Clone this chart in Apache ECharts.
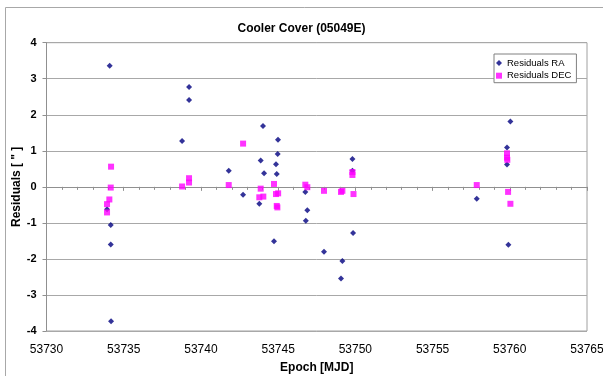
<!DOCTYPE html>
<html>
<head>
<meta charset="utf-8">
<script src="https://cdn.jsdelivr.net/npm/echarts@6/dist/echarts.min.js"></script>
<style>
html,body{margin:0;padding:0;background:#fff;}
#c{width:603px;height:376px;}
</style>
</head>
<body>
<div id="c"></div>
<script>
var titleText = 'Cooler Cover (05049E)';
var xName = 'Epoch [MJD]';
var yName = 'Residuals [ " ]';
var seriesNames = ['Residuals RA', 'Residuals DEC'];

var raX = [53734.09, 53739.23, 53739.23, 53738.78, 53733.92, 53734.16, 53734.16, 53734.18,
  53744.02, 53744.99, 53744.97, 53743.87, 53744.86, 53741.80, 53744.09, 53744.91,
  53742.73, 53743.78, 53746.76, 53746.89, 53746.79, 53744.73, 53747.97, 53749.16,
  53749.07, 53749.81, 53749.85, 53749.81, 53760.04, 53759.82, 53759.82, 53757.86, 53759.91];
var raY = [3.36, 2.77, 2.41, 1.27, -0.62, -1.06, -1.60, -3.73,
  1.69, 1.31, 0.91, 0.73, 0.63, 0.45, 0.38, 0.36,
  -0.22, -0.47, -0.14, -0.65, -0.94, -1.51, -1.80, -2.06,
  -2.54, 0.77, -1.28, 0.45, 1.81, 1.09, 0.62, -0.33, -1.61];

var decX = [53734.18, 53734.16, 53734.07, 53733.92, 53733.92, 53738.78, 53739.23, 53739.23,
  53742.73, 53741.80, 53743.87, 53743.78, 53744.04, 53744.73, 53744.86, 53745.00,
  53744.91, 53744.95, 53746.76, 53746.89, 53747.97, 53749.07, 53749.16, 53749.81,
  53749.81, 53749.88, 53759.82, 53759.82, 53759.84, 53757.86, 53759.89, 53760.04];
var decY = [0.56, -0.02, -0.35, -0.48, -0.71, 0.01, 0.24, 0.12,
  1.20, 0.05, -0.05, -0.29, -0.27, 0.08, -0.20, -0.18,
  -0.53, -0.57, 0.06, -0.01, -0.11, -0.14, -0.11, 0.41,
  0.33, -0.20, 0.93, 0.81, 0.75, 0.05, -0.14, -0.47];

function pairs(xs, ys){ return xs.map(function(x,i){ return [x, ys[i]]; }); }

var FONT = 'Arial, "Liberation Sans", sans-serif';
var chart = echarts.init(document.getElementById('c'), null, {renderer:'canvas'});
chart.setOption({
  animation: false,
  backgroundColor: '#fff',
  textStyle: {fontFamily: FONT},
  graphic: [{
    type: 'rect', shape: {x: 5.5, y: 7.5, width: 620, height: 400},
    style: {fill: 'none', stroke: '#a8a8a8', lineWidth: 1}, silent: true
  }],
  title: {
    text: titleText, left: 'center', top: 18,
    textStyle: {fontFamily: FONT, fontSize: 12, fontWeight: 'bold', color: '#000'}
  },
  legend: {
    orient: 'vertical', left: 494, top: 54,
    padding: [3.5, 5, 1.5, 2], itemGap: 1.7, itemWidth: 6, itemHeight: 6,
    borderColor: '#808080', borderWidth: 1, backgroundColor: '#fff',
    textStyle: {fontFamily: FONT, fontSize: 9.5, lineHeight: 11, color: '#000'},
    data: [{name: seriesNames[0], icon: 'diamond'}, {name: seriesNames[1], icon: 'rect'}]
  },
  grid: {
    left: 46.5, right: 16, top: 42.7, bottom: 45,
    outerBoundsMode: 'none', containLabel: false,
    show: true, borderColor: '#a0a0a0', borderWidth: 1
  },
  xAxis: {
    type: 'value', min: 53730, max: 53765, interval: 5,
    name: xName, nameLocation: 'middle', nameGap: 31, nameMoveOverlap: false,
    nameTextStyle: {fontFamily: FONT, fontSize: 12, fontWeight: 'bold', color: '#000'},
    axisLine: {lineStyle: {color: '#909090'}},
    axisTick: {show: true, length: 4, lineStyle: {color: '#909090'}},
    minorTick: {show: true, splitNumber: 5, length: 3, lineStyle: {color: '#909090'}},
    splitLine: {show: false},
    axisLabel: {fontFamily: FONT, fontSize: 12, color: '#000', margin: 13,
      formatter: function(v){ return String(v); }}
  },
  yAxis: {
    type: 'value', min: -4, max: 4, interval: 1,
    name: yName, nameLocation: 'middle', nameGap: 24, nameMoveOverlap: false,
    nameTextStyle: {fontFamily: FONT, fontSize: 12, fontWeight: 'bold', color: '#000'},
    axisLine: {show: true, lineStyle: {color: '#909090'}},
    axisTick: {show: true, length: 4, lineStyle: {color: '#909090'}},
    splitLine: {show: true, lineStyle: {color: '#a8a8a8', width: 1}},
    axisLabel: {fontFamily: FONT, fontSize: 11, fontWeight: 'bold', color: '#000', margin: 10}
  },
  series: [{
    name: seriesNames[0], type: 'scatter', symbol: 'diamond', symbolSize: 6,
    itemStyle: {color: '#000080'}, data: pairs(raX, raY), z: 3
  }, {
    name: seriesNames[1], type: 'scatter', symbol: 'rect', symbolSize: 6,
    itemStyle: {color: '#ff00ff'}, data: pairs(decX, decY), z: 4
  }]
});
</script>
</body>
</html>
